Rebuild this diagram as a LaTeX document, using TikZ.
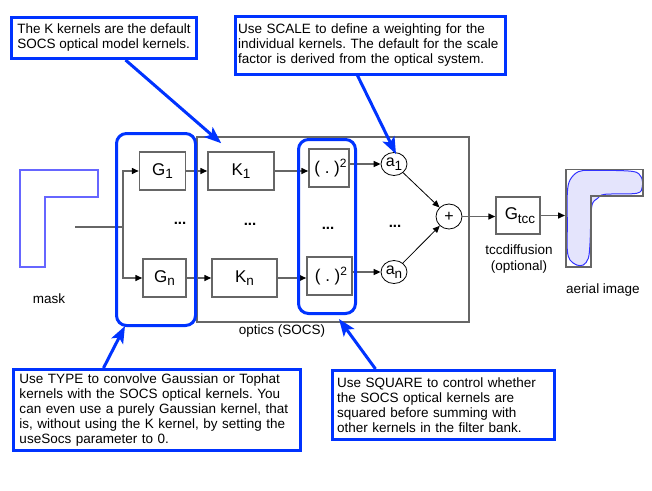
\documentclass[tikz,border=0pt]{standalone}
\usepackage{fontspec}
\setmainfont{Liberation Sans}
\usetikzlibrary{arrows.meta,calc,shapes.geometric}
\definecolor{cblue}{HTML}{0033FF}
\definecolor{mblue}{HTML}{6666FF}
\definecolor{lgray}{HTML}{666666}
\definecolor{blobfill}{HTML}{E4E4FC}
\definecolor{blobline}{HTML}{3333FF}
\newcommand\lsub[1]{\raisebox{-3.5pt}{\fontsize{13.5}{13.5}\selectfont #1}}
\newcommand\lsup[1]{\raisebox{6pt}{\fontsize{12}{12}\selectfont #1}}
\frenchspacing
\hyphenpenalty=10000
\begin{document}
\begin{tikzpicture}[x=1pt,y=-1pt,
  font=\fontsize{13.5}{15}\selectfont,
  blk/.style={draw=lgray, line width=1.5pt, minimum height=38pt, inner sep=0pt, font=\fontsize{17}{17}\selectfont},
  circ/.style={draw=black, line width=0.8pt, ellipse, minimum width=26pt, minimum height=23pt, inner sep=0pt, font=\fontsize{16}{16}\selectfont},
  conn/.style={draw=lgray, line width=1.5pt, -{Triangle[length=7pt,width=6pt,black]}},
  bconn/.style={draw=black, line width=0.8pt, -{Triangle[length=7pt,width=6pt,black]}},
  callout/.style={draw=cblue, line width=3pt, align=left, inner ysep=0pt, fill=white},
  grp/.style={draw=cblue, line width=3pt, rounded corners=10pt, inner sep=0pt},
  carrow/.style={draw=cblue, line width=3pt, -{Stealth[length=17pt,width=13pt,inset=4pt]}},
  lbl/.style={inner sep=0pt},
  dots/.style={inner sep=0pt, font=\bfseries\fontsize{15}{15}\selectfont}]
\useasboundingbox (0,0) rectangle (652,490);

% optics box
\node[draw=lgray, line width=1.5pt, minimum width=272pt, minimum height=185pt, inner sep=0pt] (optics) at (333,229.5) {};
\node[lbl] (opticslbl) at (282,331) {optics (SOCS)};

% mask
\draw[mblue, line width=1.5pt] (20,170) -- (98,170) -- (98,197) -- (45,197) -- (45,267) -- (20,267) -- cycle;
\node[lbl] (masklbl) at (49,299) {mask};
\coordinate (maskout) at (75,227);
\coordinate (br) at (123,227);

% blocks
\node[blk, minimum width=46pt] (G1) at (162.5,171) {G\lsub{1}};
\node[blk, minimum width=43pt] (Gn) at (164.5,278) {G\lsub{n}};
\node[blk, minimum width=66pt] (K1) at (241,171) {K\lsub{1}};
\node[blk, minimum width=65pt] (Kn) at (244.5,278) {K\lsub{n}};
\node[blk, minimum width=40pt] (S1) at (329,168) {\hspace*{3pt}( . )\lsup{2}};
\node[blk, minimum width=45pt] (Sn) at (329.5,276) {\hspace*{3pt}( . )\lsup{2}};
\node[circ] (a1) at (394,164) {a\lsub{1}};
\node[circ] (an) at (394,272) {a\lsub{n}};
\node[circ, minimum width=26pt, minimum height=25pt] (plus) at (449,216.5) {+};
\node[blk, minimum width=44pt, minimum height=37pt] (Gtcc) at (518,215.5) {\hspace*{4pt}G\lsub{tcc}};
\node[lbl] (tcclbl1) at (519,250) {tccdiffusion};
\node[lbl] (tcclbl2) at (519,267) {(optional)};

% dots
\node[dots] (d1) at (180,223) {...};
\node[dots] (d2) at (250,224) {...};
\node[dots] (d3) at (328,228) {...};
\node[dots] (d4) at (395,226) {...};

% connectors
\draw[lgray, line width=1.5pt] (maskout) -- (br);
\draw[conn] (br) |- (G1.west);
\draw[conn] (br) |- (Gn.west);
\draw[conn] (G1.east) -- (K1.west);
\draw[conn] (Gn.east) -- (Kn.west);
\draw[conn] (K1.east) -- (K1.east -| S1.west);
\draw[conn] (Kn.east) -- (Kn.east -| Sn.west);
\draw[conn] (S1.east |- a1.west) -- (a1.west);
\draw[conn] (Sn.east |- an.west) -- (an.west);
\draw[bconn] (a1) -- (plus);
\draw[bconn] (an) -- (plus);
\draw[conn] (plus.east) -- (plus.east -| Gtcc.west);

% aerial image
\coordinate (imgin) at (565,215.5);
\draw[conn] (Gtcc.east |- imgin) -- (imgin);
\draw[blobline, line width=1pt, fill=blobfill]
  plot[smooth cycle, tension=0.55] coordinates {
  (567.3,225) (567.3,193.3) (570,180) (578.3,171.7) (591.7,170.3) (631.7,171.3) (641,176.7)
  (642.3,186.7) (636.7,193.3) (605,194.3) (597.7,198.3) (591.7,206.7) (590,243.3)
  (588.3,258.3) (583.3,265) (576.7,265) (570,260) (567.3,250)};
\draw[lgray, line width=1.5pt] (566,169.5) -- (643,169.5) -- (643,196) -- (591,196) -- (591,267) -- (566,267) -- cycle;
\node[lbl] (aeriallbl) at (603,290) {aerial image};

% groups
\node[grp, minimum width=79pt, minimum height=192pt] (gA) at (156,229.5) {};
\node[grp, minimum width=57pt, minimum height=174pt] (gB) at (327,226.5) {};

% callouts
\node[callout, inner xsep=0pt, minimum width=185pt, minimum height=41pt] (c1) at (104,38)
  {The K kernels are the default\\SOCS optical model kernels.};
\node[callout, text width=265pt, inner xsep=2.5pt, minimum height=57.5pt] (c2) at (370.5,45.3)
  {Use SCALE to define a weighting for the\\individual kernels. The default for the scale\\factor is derived from the optical system.};
\node[callout, text width=275pt, inner xsep=6pt, minimum height=81pt] (c3) at (157,410)
  {Use TYPE to convolve Gaussian or Tophat\\kernels with the SOCS optical kernels. You\\can even use a purely Gaussian kernel, that\\is, without using the K kernel, by setting the\\useSocs parameter to 0.};
\node[callout, text width=213pt, inner xsep=4.5pt, minimum height=69pt] (c4) at (443.5,405)
  {Use SQUARE to control whether\\the SOCS optical kernels are\\squared before summing with\\other kernels in the filter bank.};

% callout arrows
\draw[carrow] ([xshift=115.5pt]c1.south west) -- ([xshift=14pt,yshift=8pt]K1.north west);
\draw[carrow] ([xshift=123.5pt]c2.south west) -- ([xshift=2pt,yshift=-2pt]a1.north);
\draw[carrow] ([xshift=91.5pt]c3.north west) -- ([xshift=-31pt,yshift=1pt]gA.south);
\draw[carrow] ([xshift=44.5pt]c4.north west) -- ([xshift=12pt,yshift=-4pt]gB.south);
\end{tikzpicture}
\end{document}
